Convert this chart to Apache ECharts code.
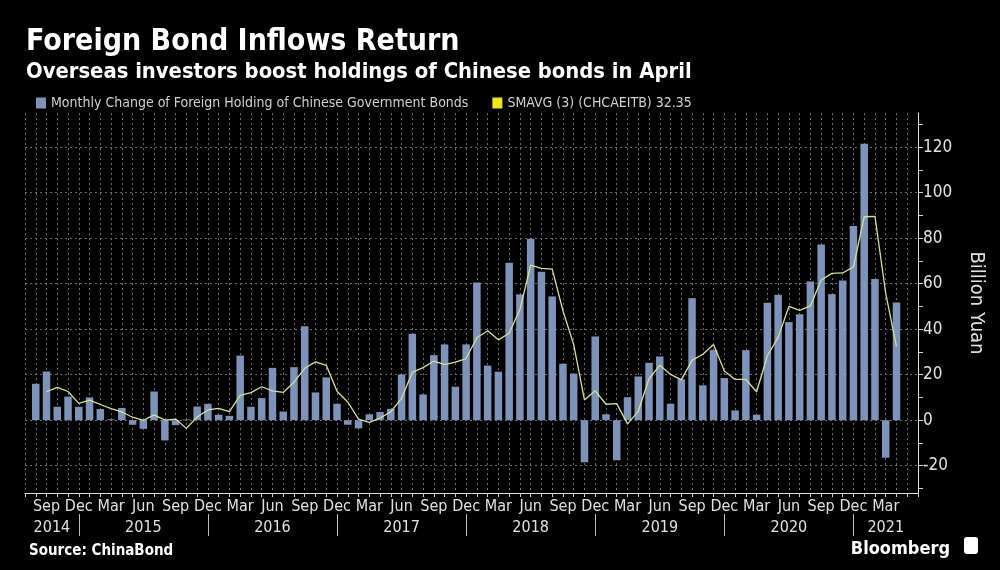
<!DOCTYPE html>
<html><head><meta charset="utf-8">
<script src="https://cdn.jsdelivr.net/npm/echarts@6/dist/echarts.min.js"></script>
<style>html,body{margin:0;padding:0;background:#000}#c{width:1000px;height:570px}</style>
</head><body><div id="c"></div>
<script>
const months = [
 'Jul 2014','Aug 2014','Sep 2014','Oct 2014','Nov 2014','Dec 2014',
 'Jan 2015','Feb 2015','Mar 2015','Apr 2015','May 2015','Jun 2015','Jul 2015','Aug 2015','Sep 2015','Oct 2015','Nov 2015','Dec 2015',
 'Jan 2016','Feb 2016','Mar 2016','Apr 2016','May 2016','Jun 2016','Jul 2016','Aug 2016','Sep 2016','Oct 2016','Nov 2016','Dec 2016',
 'Jan 2017','Feb 2017','Mar 2017','Apr 2017','May 2017','Jun 2017','Jul 2017','Aug 2017','Sep 2017','Oct 2017','Nov 2017','Dec 2017',
 'Jan 2018','Feb 2018','Mar 2018','Apr 2018','May 2018','Jun 2018','Jul 2018','Aug 2018','Sep 2018','Oct 2018','Nov 2018','Dec 2018',
 'Jan 2019','Feb 2019','Mar 2019','Apr 2019','May 2019','Jun 2019','Jul 2019','Aug 2019','Sep 2019','Oct 2019','Nov 2019','Dec 2019',
 'Jan 2020','Feb 2020','Mar 2020','Apr 2020','May 2020','Jun 2020','Jul 2020','Aug 2020','Sep 2020','Oct 2020','Nov 2020','Dec 2020',
 'Jan 2021','Feb 2021','Mar 2021','Apr 2021','May 2021','Jun 2021'
];
const inflow = [
 null, 16, 21.4, 5.9, 10.4, 5.9,
 10, 4.9, 0.4, 5.4, -2, -3.8, 12.6, -8.9, -2.2, 0.3, 6, 7.2,
 2.4, 1.9, 28.4, 5.9, 9.7, 23, 3.8, 23.3, 41.3, 12.2, 18.8, 7.2,
 -2, -3.6, 2.6, 3.6, 5, 20.1, 38, 11.3, 28.6, 33.3, 14.7, 33.3,
 60.5, 24, 21.3, 69.2, 55.3, 79.7, 65.2, 54.4, 24.8, 20.5, -18.5, 36.8,
 2.6, -17.6, 10.1, 19.2, 25.2, 28, 7.2, 18, 53.6, 15.3, 30.9, 18.5,
 4.3, 30.8, 2.4, 51.6, 55.1, 43.1, 46.6, 61, 77.2, 55.4, 61.4, 85.3,
 121.5, 62, -16.5, 51.7, null, null
];
const smavg = [
 null, null, 12.5, 14.4, 12.6, 7.4,
 8.8, 6.9, 5.1, 3.6, 1.3, -0.1, 2.3, 0, 0.5, -3.6, 1.4, 4.5,
 5.2, 3.8, 10.9, 12.1, 14.7, 12.9, 12.2, 16.7, 22.8, 25.6, 24.1, 12.7,
 8, 0.5, -1, 0.9, 3.7, 9.6, 21, 23.1, 26, 24.4, 25.5, 27.1,
 36.2, 39.3, 35.3, 38.2, 48.6, 68.1, 66.7, 66.4, 48.1, 33.2, 8.9, 12.9,
 7, 7.3, -1.6, 3.9, 18.2, 24.1, 20.1, 17.7, 26.3, 29, 33.3, 21.6,
 17.9, 17.9, 12.5, 28.3, 36.4, 50, 48.3, 50.2, 61.6, 64.5, 64.7, 67.4,
 89.4, 89.6, 55.7, 32.35, null, null
];
const yTickLabels = [-20, 0, 20, 40, 60, 80, 100, 120];
const yMinorTicks = [-30, -20, -10, 0, 10, 20, 30, 40, 50, 60, 70, 80, 90, 100, 110, 120, 130];
const years = ['2014','2015','2016','2017','2018','2019','2020','2021'];
const monthTickNames = ['Mar','Jun','Sep','Dec'];

const FONT = "'Liberation Sans Narrow', 'DejaVu Sans Condensed', sans-serif";
const decIdx = months.map((m, i) => m.startsWith('Dec') ? i : -1).filter(i => i >= 0);
const lastIdx = months.length - 1;
const yearPos = years.map((y, k) => {
  const a = k === 0 ? 0 : decIdx[k - 1];
  const b = k < decIdx.length ? decIdx[k] : lastIdx;
  return (a + b) / 2;
});

const chart = echarts.init(document.getElementById('c'), null, {renderer: 'canvas'});
chart.setOption({
  backgroundColor: '#000',
  animation: false,
  title: [
    {text: 'Foreign Bond Inflows Return', left: 21, top: 22,
     textStyle: {color: '#fff', fontSize: 30, fontWeight: 'bold', fontFamily: FONT}},
    {text: 'Overseas investors boost holdings of Chinese bonds in April', left: 21, top: 56,
     textStyle: {color: '#fff', fontSize: 21.8, fontWeight: 'bold', fontFamily: FONT}},
    {text: 'Source: ChinaBond', left: 24, top: 539,
     textStyle: {color: '#fff', fontSize: 15, fontWeight: 'bold', fontFamily: FONT}},
    {text: 'Bloomberg', right: 45, top: 535,
     textStyle: {color: '#fff', fontSize: 18, fontWeight: 'bold', fontFamily: FONT}}
  ],
  graphic: [
    {type: 'rect', right: 22, top: 537, shape: {width: 14, height: 17, r: 3}, style: {fill: '#fff'}}
  ],
  legend: {
    left: 31, top: 91, icon: 'rect', itemWidth: 10, itemHeight: 11, itemGap: 24,
    textStyle: {color: '#d0d0d0', fontSize: 14, fontFamily: FONT},
    data: ['Monthly Change of Foreign Holding of Chinese Government Bonds', 'SMAVG (3) (CHCAEITB) 32.35']
  },
  grid: {left: 25, right: 82, top: 113, bottom: 77, containLabel: false},
  xAxis: [
    {
      type: 'category', data: months, boundaryGap: false,
      axisLine: {show: true, onZero: false, lineStyle: {color: '#e0e0e0', width: 1}},
      axisTick: {show: true, interval: 0, length: 4, lineStyle: {color: '#d0d0d0'}},
      axisLabel: {
        color: '#e0e0e0', fontSize: 16, fontFamily: FONT, margin: 6,
        interval: (idx, val) => inflow[idx] !== null && monthTickNames.includes(val.slice(0, 3)),
        formatter: (val) => val.slice(0, 3)
      },
      splitLine: {show: true, interval: 0, lineStyle: {color: '#6a6a6a', type: [2, 3], width: 1}}
    },
    {
      type: 'value', min: 0, max: lastIdx, position: 'bottom', offset: 21,
      axisLine: {show: false, onZero: false},
      axisTick: {show: true, customValues: decIdx, length: 22, lineStyle: {color: '#bbbbbb'}},
      axisLabel: {
        customValues: yearPos, color: '#e0e0e0', fontSize: 16, fontFamily: FONT, margin: 6,
        formatter: (v) => { const k = yearPos.findIndex(p => Math.abs(p - v) < 0.01); return k >= 0 ? years[k] : ''; }
      },
      splitLine: {show: false}
    }
  ],
  yAxis: {
    type: 'value', position: 'right', min: -32, max: 135,
    name: 'Billion Yuan', nameLocation: 'middle', nameRotate: -90, nameGap: 48,
    nameTextStyle: {color: '#e0e0e0', fontSize: 20, fontFamily: FONT},
    axisLine: {show: true, onZero: false, lineStyle: {color: '#e0e0e0', width: 1}},
    axisTick: {show: true, customValues: yMinorTicks, length: 5, lineStyle: {color: '#d0d0d0'}},
    axisLabel: {customValues: yTickLabels, color: '#e0e0e0', fontSize: 17, fontFamily: FONT, margin: 5},
    splitLine: {show: false}
  },
  series: [
    {
      name: 'Monthly Change of Foreign Holding of Chinese Government Bonds',
      type: 'bar', data: inflow, barWidth: 7.5, z: 3,
      itemStyle: {color: '#7d93b9'},
      markLine: {
        silent: true, symbol: ['none', 'none'], z: 1, label: {show: false},
        lineStyle: {color: '#6a6a6a', type: [2, 3], width: 1},
        emphasis: {disabled: true},
        data: yTickLabels.map(v => ({yAxis: v}))
      }
    },
    {
      name: 'SMAVG (3) (CHCAEITB) 32.35',
      type: 'line', data: smavg, z: 4, showSymbol: false, symbol: 'none',
      itemStyle: {color: '#f0e41c'},
      lineStyle: {color: '#d9dd96', width: 1.3}
    }
  ]
});
</script></body></html>
